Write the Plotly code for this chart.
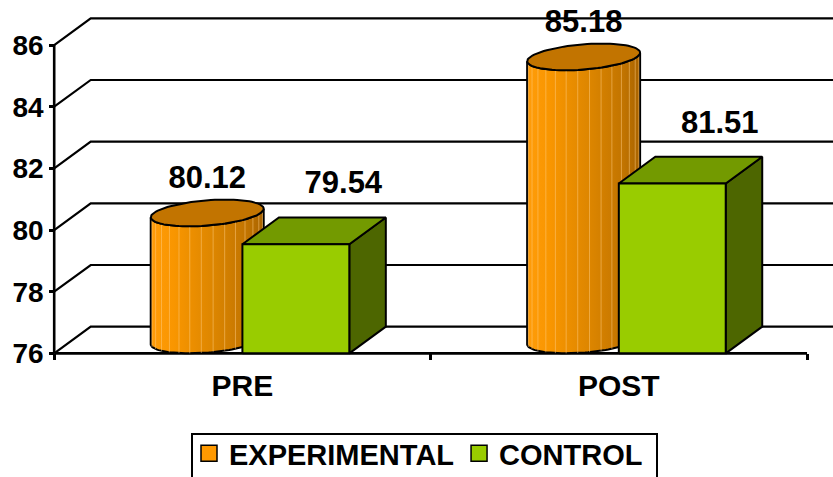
import numpy as np
import plotly.graph_objects as go

# ---- data -------------------------------------------------------------
categories = ["PRE", "POST"]
series_names = ["EXPERIMENTAL", "CONTROL"]
experimental = [80.12, 85.18]
control = [79.54, 81.51]
y_ticks = [76, 78, 80, 82, 84, 86]

# ---- geometry / style --------------------------------------------------
Y_BASE = 76
BAR_W = 0.284            # width of one column (category units)
DEPTH_X = 0.097          # oblique depth offset, x (category units)
DEPTH_Y = 0.866          # oblique depth offset, y (value units)
X_RANGE = [-0.644, 1.569]
Y_RANGE = [71.99, 87.46]
FONT = "Liberation Sans, Arial, sans-serif"
LINE = "black"
W, H = 833, 477

ORANGE_SCALE = [[0.0, "#FF9C0A"], [0.2, "#F99600"], [0.55, "#DD8600"],
                [0.85, "#C27400"], [1.0, "#A86300"]]
ORANGE_TOP = "#C27400"
ORANGE_KEY = "#FF9900"
STRIPE = "rgba(255,205,130,0.5)"
GREEN_FRONT = "#99CC00"
GREEN_TOP = "#739A00"
GREEN_SIDE = "#4D6600"

fig = go.Figure()


def poly(xs, ys, **kw):
    """Closed filled polygon in data coordinates."""
    xs = list(xs) + [xs[0]]
    ys = list(ys) + [ys[0]]
    fig.add_trace(go.Scatter(x=xs, y=ys, mode="lines", fill="toself",
                             line=dict(color=LINE, width=2),
                             hoverinfo="skip", showlegend=False, **kw))


# ---- back wall gridlines, front axis line, floor line -----------------
gx, gy = [], []
for v in y_ticks:
    gx += [-0.5, -0.5 + DEPTH_X, X_RANGE[1] + 0.2, None]
    gy += [v, v + DEPTH_Y, v + DEPTH_Y, None]
fig.add_trace(go.Scatter(x=gx, y=gy, mode="lines",
                         line=dict(color=LINE, width=2.2),
                         hoverinfo="skip", showlegend=False))
fig.add_trace(go.Scatter(x=[-0.5, -0.5, None, -0.5, 1.5],
                         y=[y_ticks[0], y_ticks[-1], None, Y_BASE, Y_BASE],
                         mode="lines", line=dict(color=LINE, width=2.6),
                         hoverinfo="skip", showlegend=False))

# ---- columns -----------------------------------------------------------
a = BAR_W / 2
b = DEPTH_X / 2
t_r = np.arctan2(b, a)          # right silhouette angle of the ellipse
t_l = t_r + np.pi               # left silhouette angle


def ell(cx, cy, t):
    return cx + a * np.cos(t) + b * np.sin(t), cy + (DEPTH_Y / 2) * np.sin(t)


for i, (ve, vc) in enumerate(zip(experimental, control)):
    # cylinder (experimental), centred half a depth back
    cx = i - BAR_W / 2 + DEPTH_X / 2
    y0 = Y_BASE + DEPTH_Y / 2
    y1 = ve + DEPTH_Y / 2
    front = np.linspace(t_l, t_r + 2 * np.pi, 60)      # front half arc
    tx, ty = ell(cx, y1, front)
    bx, by = ell(cx, y0, front[::-1])
    poly(np.concatenate([tx, bx]), np.concatenate([ty, by]),
         fillgradient=dict(type="horizontal", colorscale=ORANGE_SCALE))
    # faint vertical banding on the curved surface
    sx, sy = [], []
    for t in np.linspace(t_l, t_r + 2 * np.pi, 16)[1:-1]:
        xb, yb = ell(cx, y0, t)
        xt, yt = ell(cx, y1, t)
        sx += [xb, xt, None]
        sy += [yb, yt, None]
    fig.add_trace(go.Scatter(x=sx, y=sy, mode="lines",
                             line=dict(color=STRIPE, width=1),
                             hoverinfo="skip", showlegend=False))
    full = np.linspace(0, 2 * np.pi, 90)
    ex, ey = ell(cx, y1, full)
    poly(ex, ey, fillcolor=ORANGE_TOP)

    # box (control)
    x0, x1 = i, i + BAR_W
    poly([x1, x1 + DEPTH_X, x1 + DEPTH_X, x1],
         [Y_BASE, Y_BASE + DEPTH_Y, vc + DEPTH_Y, vc], fillcolor=GREEN_SIDE)
    poly([x0, x1, x1 + DEPTH_X, x0 + DEPTH_X],
         [vc, vc, vc + DEPTH_Y, vc + DEPTH_Y], fillcolor=GREEN_TOP)
    poly([x0, x1, x1, x0], [Y_BASE, Y_BASE, vc, vc], fillcolor=GREEN_FRONT)

# ---- value labels -------------------------------------------------------
lab_x, lab_y, lab_t = [], [], []
for i, (ve, vc) in enumerate(zip(experimental, control)):
    lab_x += [i - BAR_W / 2 + DEPTH_X / 2, i + BAR_W / 2 + DEPTH_X * 1.3]
    lab_y += [ve + 1.5, vc + 1.9]
    lab_t += [f"{ve:.2f}", f"{vc:.2f}"]
fig.add_trace(go.Scatter(x=lab_x, y=lab_y, text=lab_t, mode="text",
                         textposition="middle center",
                         textfont=dict(family=FONT, size=31, color="black",
                                       weight="bold"),
                         hoverinfo="skip", showlegend=False))

# ---- legend entries -------------------------------------------------------
for name, col in zip(series_names, [ORANGE_KEY, GREEN_FRONT]):
    fig.add_trace(go.Scatter(x=[None], y=[None], mode="markers", name=name,
                             marker=dict(symbol="square", size=18, color=col,
                                         line=dict(color=LINE, width=1.5))))

# carrier for the category axis
fig.add_trace(go.Scatter(x=[0, 1], y=[None, None], xaxis="x2", mode="markers",
                         hoverinfo="skip", showlegend=False))

x_pos = (Y_BASE - Y_RANGE[0]) / (Y_RANGE[1] - Y_RANGE[0])
y_pos = (-0.5 - X_RANGE[0]) / (X_RANGE[1] - X_RANGE[0])
tick_font = dict(family=FONT, size=28, color="black", weight="bold")
cat_font = dict(family=FONT, size=30, color="black", weight="bold")
legend_font = dict(family=FONT, size=29, color="black", weight="bold")

# legend frame (runs off the bottom edge of the page)
fig.add_shape(type="rect", xref="paper", yref="paper",
              x0=192 / W, x1=657 / W, y0=-0.05, y1=1 - 434 / H,
              line=dict(color=LINE, width=2), fillcolor="rgba(0,0,0,0)",
              layer="above")

fig.update_layout(
    width=W, height=H, autosize=False,
    margin=dict(l=0, r=0, t=0, b=0, autoexpand=False),
    paper_bgcolor="white", plot_bgcolor="white",
    xaxis=dict(range=X_RANGE, showgrid=False, zeroline=False, showline=False,
               tickvals=[-0.5, 0.5, 1.5], ticks="outside", ticklen=6,
               tickwidth=2.5, tickcolor=LINE, showticklabels=False,
               anchor="free", position=x_pos, fixedrange=True),
    xaxis2=dict(range=X_RANGE, overlaying="x", showgrid=False, zeroline=False,
                showline=False, tickvals=[0, 1], ticktext=categories,
                ticks="", tickfont=cat_font, ticklabelstandoff=12,
                anchor="free", position=x_pos, fixedrange=True),
    yaxis=dict(range=Y_RANGE, showgrid=False, zeroline=False, showline=False,
               tickvals=y_ticks, ticks="outside", ticklen=5, tickwidth=2.5,
               tickcolor=LINE, tickfont=tick_font, anchor="free",
               position=y_pos, fixedrange=True),
    legend=dict(orientation="h", x=189 / W, y=1 - 428 / H,
                xanchor="left", yanchor="top", bgcolor="rgba(0,0,0,0)",
                borderwidth=0, font=legend_font),
    showlegend=True,
)

fig.write_html("out.html")
